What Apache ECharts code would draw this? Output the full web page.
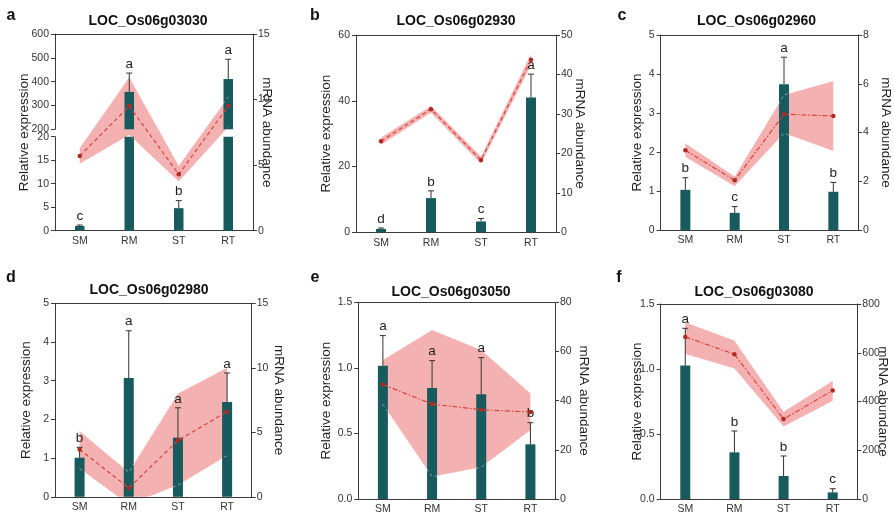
<!DOCTYPE html>
<html><head><meta charset="utf-8">
<script src="https://cdn.jsdelivr.net/npm/echarts@6/dist/echarts.min.js"></script>
<style>html,body{margin:0;padding:0;background:#fff}#c{width:894px;height:519px}</style>
</head><body><div id="c"></div>
<script>
// ---------------- DATA ----------------
const categories = ['SM', 'RM', 'ST', 'RT'];

// a
const aTitle = 'LOC_Os06g03030';
const aExpr = [1.0, 357, 4.8, 411];
const aExprErr = [1.2, 436, 6.4, 494];
const aLetters = ['c', 'a', 'b', 'a'];
const aMrna = [5.7, 9.5, 4.3, 9.5];
const aMrnaHigh = [6.3, 11.7, 4.95, 10.2];
const aMrnaLow = [5.1, 7.3, 3.75, 7.9];
const aLeftUpperTicks = [200, 300, 400, 500, 600];
const aLeftLowerTicks = [0, 5, 10, 15, 20];
const aRightTicks = [0, 5, 10, 15];

// b
const bTitle = 'LOC_Os06g02930';
const bExpr = [1.0, 10.4, 3.3, 41.0];
const bExprErr = [1.3, 12.6, 4.2, 48.1];
const bLetters = ['d', 'b', 'c', 'a'];
const bMrna = [23.1, 31.2, 18.3, 43.7];
const bMrnaHigh = [24.0, 32.0, 19.2, 45.2];
const bMrnaLow = [22.2, 30.3, 17.4, 42.3];
const bLeftTicks = [0, 20, 40, 60];
const bRightTicks = [0, 10, 20, 30, 40, 50];

// c
const cTitle = 'LOC_Os06g02960';
const cExpr = [1.03, 0.44, 3.74, 0.98];
const cExprErr = [1.34, 0.60, 4.43, 1.22];
const cLetters = ['b', 'c', 'a', 'b'];
const cMrna = [3.27, 2.04, 4.75, 4.68];
const cMrnaHigh = [3.56, 2.19, 5.54, 6.11];
const cMrnaLow = [3.0, 1.8, 3.97, 3.24];
const cLeftTicks = [0, 1, 2, 3, 4, 5];
const cRightTicks = [0, 2, 4, 6, 8];

// d
const dTitle = 'LOC_Os06g02980';
const dExpr = [1.01, 3.07, 1.53, 2.45];
const dExprErr = [1.28, 4.29, 2.3, 3.2];
const dLetters = ['b', 'a', 'a', 'a'];
const dMrna = [3.67, 0.69, 4.36, 6.6];
const dMrnaHigh = [5.1, 1.9, 8.0, 10.0];
const dMrnaLow = [2.2, -0.6, 0.9, 3.2];
const dLeftTicks = [0, 1, 2, 3, 4, 5];
const dRightTicks = [0, 5, 10, 15];

// e
const eTitle = 'LOC_Os06g03050';
const eExpr = [1.017, 0.847, 0.798, 0.417];
const eExprErr = [1.246, 1.055, 1.078, 0.582];
const eLetters = ['a', 'a', 'a', 'b'];
const eMrna = [46.6, 38.6, 36.3, 35.4];
const eMrnaHigh = [56.5, 68.7, 60.6, 43.0];
const eMrnaLow = [38.5, 9.1, 12.9, 28.0];
const eLeftTicks = ['0.0', '0.5', '1.0', '1.5'];
const eRightTicks = [0, 20, 40, 60, 80];

// f
const fTitle = 'LOC_Os06g03080';
const fExpr = [1.026, 0.359, 0.177, 0.051];
const fExprErr = [1.313, 0.523, 0.331, 0.079];
const fLetters = ['a', 'b', 'b', 'c'];
const fMrna = [665, 594, 328, 445];
const fMrnaHigh = [725, 650, 358, 485];
const fMrnaLow = [595, 535, 297, 402];
const fLeftTicks = ['0.0', '0.5', '1.0', '1.5'];
const fRightTicks = [0, 200, 400, 600, 800];

const leftName = 'Relative expression';
const rightName = 'mRNA abundance';

// ---------------- STYLE / LAYOUT ----------------
const FONT = '"Liberation Sans", Arial, Helvetica, sans-serif';
const BAR = '#175b5e', AXIS = '#3a3a3a', TXT = '#1e1e1e';
const BAND = 'rgba(232,90,90,0.47)', EDGE = 'rgba(255,236,236,0.5)';
const LINE = '#d9433b', DOT = '#b02a24';
const DASHED = [4, 3], DASHDOT = [5, 2, 1.5, 2];

const panels = [
  {title: aTitle, expr: aExpr, err: aExprErr, letters: aLetters, mrna: aMrna, hi: aMrnaHigh, lo: aMrnaLow,
   right: aRightTicks, upper: aLeftUpperTicks, lower: aLeftLowerTicks,
   box: {left: 55, top: 34, width: 198, height: 196.7}, split: {upperH: 95.3, lowerTop: 136.7},
   titleAt: [148, 21], tag: 'a', tagAt: [11, 15.5], gapL: 24, gapR: 7, dash: DASHED, barW: 9.5},
  {title: bTitle, expr: bExpr, err: bExprErr, letters: bLetters, mrna: bMrna, hi: bMrnaHigh, lo: bMrnaLow,
   left: bLeftTicks, right: bRightTicks,
   box: {left: 356, top: 35, width: 200, height: 197.3},
   titleAt: [456, 21], tag: 'b', tagAt: [315, 15.5], gapL: 23, gapR: 17, dash: DASHED, barW: 10},
  {title: cTitle, expr: cExpr, err: cExprErr, letters: cLetters, mrna: cMrna, hi: cMrnaHigh, lo: cMrnaLow,
   left: cLeftTicks, right: cRightTicks,
   box: {left: 660.7, top: 35, width: 197.6, height: 195},
   titleAt: [756.5, 21], tag: 'c', tagAt: [622, 15.5], gapL: 16.5, gapR: 21, dash: DASHDOT, barW: 10},
  {title: dTitle, expr: dExpr, err: dExprErr, letters: dLetters, mrna: dMrna, hi: dMrnaHigh, lo: dMrnaLow,
   left: dLeftTicks, right: dRightTicks,
   box: {left: 55, top: 303.3, width: 196.7, height: 193.5},
   titleAt: [149, 290], tag: 'd', tagAt: [11, 278], gapL: 22, gapR: 20, dash: DASHED, barW: 10},
  {title: eTitle, expr: eExpr, err: eExprErr, letters: eLetters, mrna: eMrna, hi: eMrnaHigh, lo: eMrnaLow,
   left: eLeftTicks, right: eRightTicks,
   box: {left: 358.3, top: 302.3, width: 196.7, height: 196.7},
   titleAt: [451, 292], tag: 'e', tagAt: [315, 278], gapL: 25, gapR: 22, dash: DASHDOT, barW: 10},
  {title: fTitle, expr: fExpr, err: fExprErr, letters: fLetters, mrna: fMrna, hi: fMrnaHigh, lo: fMrnaLow,
   left: fLeftTicks, right: fRightTicks,
   box: {left: 660.7, top: 304, width: 196.6, height: 195},
   titleAt: [754, 292], tag: 'f', tagAt: [619, 278], gapL: 16, gapR: 18, dash: DASHDOT, barW: 10}
];

// ---------------- BUILD ----------------
const option = {animation: false, backgroundColor: '#fff', grid: [], xAxis: [], yAxis: [], series: [], graphic: []};

function tickCfg(ticks) {
  const nums = ticks.map(Number);
  return {min: nums[0], max: nums[nums.length - 1], interval: nums[1] - nums[0],
    fmt: v => { const k = nums.findIndex(n => Math.abs(n - v) < 1e-9); return k < 0 ? '' : String(ticks[k]); }};
}
function addGrid(g) { option.grid.push(Object.assign({containLabel: false}, g)); return option.grid.length - 1; }
function addX(gridIndex, pos, labels, show) {
  option.xAxis.push({type: 'category', gridIndex, position: pos, data: categories, show: show !== false, boundaryGap: true,
    axisLine: {show: true, onZero: false, lineStyle: {color: AXIS, width: 1}},
    axisTick: {show: false},
    axisLabel: {show: labels, margin: 5, fontSize: 10.5, color: '#333', fontFamily: FONT},
    splitLine: {show: false}});
  return option.xAxis.length - 1;
}
function addY(gridIndex, pos, ticks, extra) {
  const t = tickCfg(ticks);
  option.yAxis.push(Object.assign({type: 'value', gridIndex, position: pos, min: t.min, max: t.max, interval: t.interval,
    axisLine: {show: true, onZero: false, lineStyle: {color: AXIS, width: 1}},
    axisTick: {show: true, inside: false, length: 4, lineStyle: {color: AXIS}},
    axisLabel: {show: true, margin: pos === 'left' ? 6 : 5, fontSize: 10.5, color: '#333', fontFamily: FONT, formatter: t.fmt},
    splitLine: {show: false}}, extra || {}));
  return option.yAxis.length - 1;
}
function nameCfg(name, gap, rot) {
  return {name, nameLocation: 'middle', nameGap: gap, nameRotate: rot, nameMoveOverlap: false,
    nameTextStyle: {fontSize: 13.5, color: TXT, fontFamily: FONT}};
}
function clipRect(params) {
  const c = params.coordSys;
  return {type: 'rect', shape: {x: c.x, y: c.y, width: c.width, height: c.height}};
}
function bandSeries(xi, yi, lo, hi) {
  const data = categories.map((c, i) => [i, lo[i], hi[i]]);
  option.series.push({type: 'custom', xAxisIndex: xi, yAxisIndex: yi, z: 1, silent: true, data,
    renderItem: (params, api) => {
      if (params.dataIndex !== 0) return null;
      const n = categories.length, pts = [];
      for (let i = 0; i < n; i++) pts.push(api.coord([i, hi[i]]));
      for (let i = n - 1; i >= 0; i--) pts.push(api.coord([i, lo[i]]));
      return {type: 'polygon', shape: {points: pts}, style: {fill: BAND, stroke: null}, clipPath: clipRect(params)};
    }});
  option.series.push({type: 'custom', xAxisIndex: xi, yAxisIndex: yi, z: 3, silent: true, data,
    renderItem: (params, api) => {
      if (params.dataIndex !== 0) return null;
      const n = categories.length;
      const up = [], dn = [];
      for (let i = 0; i < n; i++) { up.push(api.coord([i, hi[i]])); dn.push(api.coord([i, lo[i]])); }
      return {type: 'group', clipPath: clipRect(params), children: [
        {type: 'polyline', shape: {points: up}, style: {stroke: EDGE, lineWidth: 1, fill: null, lineDash: [3, 3]}},
        {type: 'polyline', shape: {points: dn}, style: {stroke: EDGE, lineWidth: 1, fill: null, lineDash: [3, 3]}}
      ]};
    }});
}
function lineSeries(xi, yi, data, dash) {
  option.series.push({type: 'line', xAxisIndex: xi, yAxisIndex: yi, data, z: 6, symbol: 'circle', symbolSize: 4.5,
    itemStyle: {color: DOT}, lineStyle: {color: LINE, width: 1.2, type: dash}});
}
function barSeries(xi, yi, data, w) {
  option.series.push({type: 'bar', xAxisIndex: xi, yAxisIndex: yi, data, barWidth: w, clip: true, z: 2,
    itemStyle: {color: BAR}});
}
function errSeries(xi, yi, expr, err, letters, idxs) {
  option.series.push({type: 'custom', xAxisIndex: xi, yAxisIndex: yi, z: 5, silent: true,
    data: idxs.map(i => [i, expr[i], err[i]]),
    renderItem: (params, api) => {
      const i = api.value(0);
      const p0 = api.coord([i, api.value(1)]), p1 = api.coord([i, api.value(2)]);
      return {type: 'group', children: [
        {type: 'line', shape: {x1: p0[0], y1: p0[1], x2: p1[0], y2: p1[1]}, style: {stroke: '#333', lineWidth: 1}},
        {type: 'line', shape: {x1: p1[0] - 3, y1: p1[1], x2: p1[0] + 3, y2: p1[1]}, style: {stroke: '#333', lineWidth: 1}},
        {type: 'text', style: {text: letters[i], x: p1[0], y: p1[1] - 2, textAlign: 'center', textVerticalAlign: 'bottom',
          align: 'center', verticalAlign: 'bottom', font: '13.5px ' + FONT, fill: TXT}}
      ]};
    }});
}

panels.forEach(p => {
  const b = p.box;
  if (p.upper) {
    // broken left axis
    const gUp = addGrid({left: b.left, top: b.top, width: b.width, height: p.split.upperH});
    const gLow = addGrid({left: b.left, top: p.split.lowerTop, width: b.width, height: b.top + b.height - p.split.lowerTop});
    const gFull = addGrid({left: b.left, top: b.top, width: b.width, height: b.height});
    const xUp = addX(gUp, 'top', false);
    const xLow = addX(gLow, 'bottom', true);
    const xFull = addX(gFull, 'bottom', false, false);
    const yUp = addY(gUp, 'left', p.upper);
    const yLow = addY(gLow, 'left', p.lower);
    addY(gFull, 'left', p.right, Object.assign({axisLine: {show: false}, axisTick: {show: false}, axisLabel: {show: false}}, nameCfg(leftName, p.gapL, 90)));
    const yFullR = addY(gFull, 'right', p.right, nameCfg(rightName, p.gapR, -90));
    const upMin = p.upper[0], lowMax = p.lower[p.lower.length - 1];
    bandSeries(xFull, yFullR, p.lo, p.hi);
    barSeries(xUp, yUp, p.expr.map(v => v > upMin ? v : '-'), p.barW);
    barSeries(xLow, yLow, p.expr, p.barW);
    const idxUp = [], idxLow = [];
    p.expr.forEach((v, i) => (v > lowMax ? idxUp : idxLow).push(i));
    errSeries(xUp, yUp, p.expr, p.err, p.letters, idxUp);
    errSeries(xLow, yLow, p.expr, p.err, p.letters, idxLow);
    lineSeries(xFull, yFullR, p.mrna, p.dash);
  } else {
    const g = addGrid({left: b.left, top: b.top, width: b.width, height: b.height});
    const xB = addX(g, 'bottom', true);
    addX(g, 'top', false);
    const yL = addY(g, 'left', p.left, nameCfg(leftName, p.gapL, 90));
    const yR = addY(g, 'right', p.right, nameCfg(rightName, p.gapR, -90));
    bandSeries(xB, yR, p.lo, p.hi);
    barSeries(xB, yL, p.expr, p.barW);
    errSeries(xB, yL, p.expr, p.err, p.letters, p.expr.map((v, i) => i));
    lineSeries(xB, yR, p.mrna, p.dash);
  }
  option.graphic.push({type: 'text', z: 10, style: {text: p.title, x: p.titleAt[0], y: p.titleAt[1],
    textAlign: 'center', textVerticalAlign: 'middle', align: 'center', verticalAlign: 'middle',
    font: 'bold 14px ' + FONT, fill: '#111'}});
  option.graphic.push({type: 'text', z: 10, style: {text: p.tag, x: p.tagAt[0], y: p.tagAt[1],
    textAlign: 'center', textVerticalAlign: 'middle', align: 'center', verticalAlign: 'middle',
    font: 'bold 16px ' + FONT, fill: '#111'}});
});

const chart = echarts.init(document.getElementById('c'), null, {renderer: 'canvas'});
chart.setOption(option);
</script></body></html>
